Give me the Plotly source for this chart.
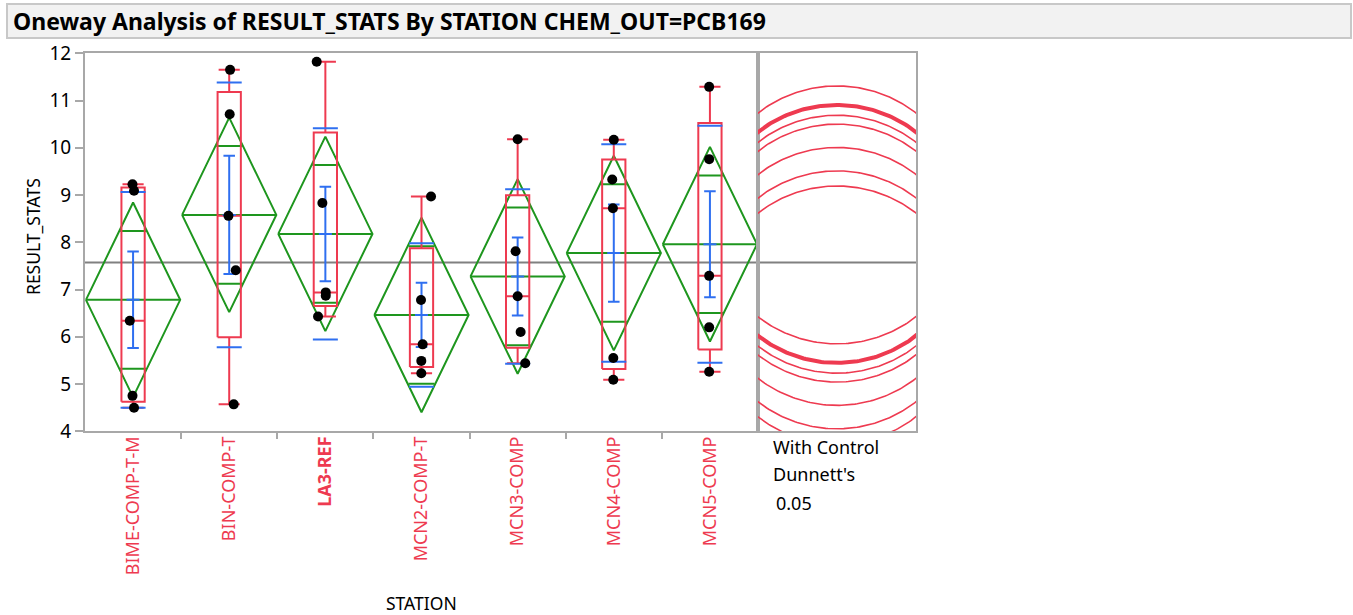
import numpy as np
import plotly.graph_objects as go

# ---- data -------------------------------------------------------------
stations = ["BIME-COMP-T-M", "BIN-COMP-T", "LA3-REF", "MCN2-COMP-T",
            "MCN3-COMP", "MCN4-COMP", "MCN5-COMP"]
control = "LA3-REF"

bime_comp_t_m = [9.23, 9.09, 6.34, 4.75, 4.50]
bin_comp_t = [11.65, 10.71, 8.56, 7.41, 4.57]
la3_ref = [11.82, 8.83, 6.94, 6.87, 6.43]
mcn2_comp_t = [8.97, 6.78, 5.84, 5.49, 5.23]
mcn3_comp = [10.18, 7.81, 6.86, 6.10, 5.44]
mcn4_comp = [10.17, 9.33, 8.72, 5.55, 5.09]
mcn5_comp = [11.29, 9.76, 7.29, 6.20, 5.26]

y_tick_vals = [4, 5, 6, 7, 8, 9, 10, 11, 12]

# critical values: t(0.975, df=28) for the means diamonds,
# Dunnett's |d| (6 comparisons with control, df=28) for the circles
t_crit = 2.048
dunnett_q = 2.715
alpha_text = "0.05"

# ---- horizontal point jitter (category units) ---------------------------
jitter = [
    [-0.006, 0.010, -0.034, -0.006, 0.010],
    [0.009, 0.005, -0.008, 0.068, 0.047],
    [-0.090, -0.031, 0.004, 0.004, -0.076],
    [0.099, -0.005, 0.012, -0.002, -0.002],
    [0.000, -0.021, 0.000, 0.031, 0.079],
    [0.000, -0.016, -0.009, -0.005, -0.005],
    [-0.008, -0.008, -0.008, -0.008, -0.008],
]

groups = [bime_comp_t_m, bin_comp_t, la3_ref, mcn2_comp_t,
          mcn3_comp, mcn4_comp, mcn5_comp]

W, H = 1353, 615
RED = "#ee3a50"
GREEN = "#1e961e"
BLUE = "#2f6ff0"
FRAME = "#a8a8a8"
FONT = "Noto Sans, Open Sans, sans-serif"


def px(x):
    return x / W


def py(y):
    return 1 - y / H


def quantile(vals, p):
    """Quantile at rank p*(n+1), linear between order statistics."""
    v = np.sort(np.asarray(vals, float))
    n = len(v)
    r = p * (n + 1)
    lo = int(np.floor(r))
    frac = r - lo
    lo = min(max(lo, 1), n)
    hi = min(lo + 1, n)
    return v[lo - 1] + frac * (v[hi - 1] - v[lo - 1])


# ---- statistics -------------------------------------------------------
means = [float(np.mean(g)) for g in groups]
sds = [float(np.std(g, ddof=1)) for g in groups]
ns = [len(g) for g in groups]
all_vals = np.concatenate([np.asarray(g, float) for g in groups])
grand_mean = float(all_vals.mean())
ss_within = sum(float(np.sum((np.asarray(g) - m) ** 2)) for g, m in zip(groups, means))
df_err = len(all_vals) - len(groups)
s_pooled = np.sqrt(ss_within / df_err)

fig = go.Figure()

# ---- means diamonds (green) ------------------------------------------
gx, gy = [], []
for i, (m, n) in enumerate(zip(means, ns)):
    se_p = s_pooled / np.sqrt(n)
    ci = t_crit * se_p
    hw = 0.49
    gx += [i - hw, i, i + hw, i, i - hw, None, i - hw, i + hw, None]
    gy += [m, m + ci, m, m - ci, m, None, m, m, None]
    ov = ci / np.sqrt(2)
    ow = 0.135
    gx += [i - ow, i + ow, None, i - ow, i + ow, None]
    gy += [m + ov, m + ov, None, m - ov, m - ov, None]
fig.add_trace(go.Scatter(x=gx, y=gy, mode="lines", xaxis="x", yaxis="y",
                         line=dict(color=GREEN, width=2), hoverinfo="skip",
                         showlegend=False))

# ---- quantile boxes (red) ---------------------------------------------
rx, ry = [], []
for i, g in enumerate(groups):
    q1, med, q3 = quantile(g, 0.25), quantile(g, 0.5), quantile(g, 0.75)
    iqr = q3 - q1
    inside = [v for v in g if q1 - 1.5 * iqr <= v <= q3 + 1.5 * iqr]
    lo_w, hi_w = min(inside), max(inside)
    bw, cw = 0.121, 0.11
    rx += [i - bw, i + bw, i + bw, i - bw, i - bw, None,
           i - bw, i + bw, None,
           i, i, None, i, i, None,
           i - cw, i + cw, None, i - cw, i + cw, None]
    ry += [q1, q1, q3, q3, q1, None,
           med, med, None,
           q3, hi_w, None, q1, lo_w, None,
           hi_w, hi_w, None, lo_w, lo_w, None]
fig.add_trace(go.Scatter(x=rx, y=ry, mode="lines", xaxis="x", yaxis="y",
                         line=dict(color=RED, width=2), hoverinfo="skip",
                         showlegend=False))

# ---- mean error bars and std dev lines (blue) -------------------------
bx, by = [], []
for i, (m, s, n) in enumerate(zip(means, sds, ns)):
    se = s / np.sqrt(n)
    sw, ew, mw = 0.13, 0.06, 0.068
    bx += [i - sw, i + sw, None, i - sw, i + sw, None,
           i, i, None,
           i - ew, i + ew, None, i - ew, i + ew, None,
           i - mw, i + mw, None]
    by += [m + s, m + s, None, m - s, m - s, None,
           m - se, m + se, None,
           m + se, m + se, None, m - se, m - se, None,
           m, m, None]
fig.add_trace(go.Scatter(x=bx, y=by, mode="lines", xaxis="x", yaxis="y",
                         line=dict(color=BLUE, width=2), hoverinfo="skip",
                         showlegend=False))

# ---- data points ------------------------------------------------------
px_pts, py_pts = [], []
for i, (g, jit) in enumerate(zip(groups, jitter)):
    for v, j in zip(g, jit):
        px_pts.append(i + j)
        py_pts.append(v)
fig.add_trace(go.Scatter(x=px_pts, y=py_pts, mode="markers", xaxis="x", yaxis="y",
                         marker=dict(color="black", size=10, line=dict(width=0)),
                         cliponaxis=False, showlegend=False))

# ---- comparison circles (Dunnett's, with control) ---------------------
theta = np.linspace(0, 2 * np.pi, 361)
for name, m, n in zip(stations, means, ns):
    r = dunnett_q * s_pooled / np.sqrt(n)
    fig.add_trace(go.Scatter(
        x=r * np.cos(theta), y=m + r * np.sin(theta), mode="lines",
        xaxis="x2", yaxis="y2",
        line=dict(color=RED, width=4 if name == control else 1.6),
        hoverinfo="skip", showlegend=False))

# ---- layout -----------------------------------------------------------
L, M, R = 85, 758, 916
T, B = 53.3, 431.3
y_lo, y_hi = 4, 12
unit_px = (B - T) / (y_hi - y_lo)
half_x2 = (R - M) / unit_px / 2

fig.add_shape(type="line", xref="paper", yref="y", x0=px(L), x1=px(R),
              y0=grand_mean, y1=grand_mean, layer="below",
              line=dict(color="#808080", width=2))

# title bar
fig.add_shape(type="rect", xref="paper", yref="paper",
              x0=px(7), x1=px(1351), y0=py(38), y1=py(4),
              fillcolor="#f2f2f2", line=dict(color="#c8c8c8", width=2))
fig.add_annotation(xref="paper", yref="paper", x=px(11), y=py(21),
                   xanchor="left", yanchor="middle", showarrow=False,
                   text="<b>Oneway Analysis of RESULT_STATS By STATION CHEM_OUT=PCB169</b>",
                   font=dict(family=FONT, size=23, color="black"))

tick_text = [f"<b>{s}</b>" if s == control else s for s in stations]

fig.update_layout(
    width=W, height=H, autosize=False,
    margin=dict(l=0, r=0, t=0, b=0, autoexpand=False),
    paper_bgcolor="white", plot_bgcolor="white",
    font=dict(family=FONT, color="black"),
    xaxis=dict(domain=[px(L), px(M)], range=[-0.5, len(stations) - 0.5],
               anchor="y", automargin=False,
               tickmode="array", tickvals=list(range(len(stations))),
               ticktext=tick_text, tickangle=-90, ticks="",
               ticklabelstandoff=-4,
               tickfont=dict(family=FONT, size=18, color=RED),
               showgrid=False, zeroline=False,
               showline=True, linecolor=FRAME, linewidth=2, mirror=True,
               minor=dict(tickmode="array",
                          tickvals=[k + 0.5 for k in range(len(stations) - 1)],
                          ticks="outside", ticklen=6, tickcolor=FRAME, tickwidth=2,
                          showgrid=False)),
    yaxis=dict(domain=[py(B), py(T)], range=[y_lo, y_hi], anchor="x",
               automargin=False,
               tickmode="array", tickvals=y_tick_vals,
               ticks="outside", ticklen=8, tickcolor=FRAME, tickwidth=2,
               tickfont=dict(family=FONT, size=19, color="black"),
               showgrid=False, zeroline=False,
               showline=True, linecolor=FRAME, linewidth=2, mirror=True),
    xaxis2=dict(domain=[px(M), px(R)], range=[-half_x2, half_x2], anchor="y2",
                automargin=False,
                showticklabels=False, ticks="", showgrid=False, zeroline=False,
                showline=True, linecolor=FRAME, linewidth=2, mirror=True),
    yaxis2=dict(domain=[py(B), py(T)], range=[y_lo, y_hi], anchor="x2",
                automargin=False,
                matches="y", showticklabels=False, ticks="", showgrid=False,
                zeroline=False, showline=True, linecolor=FRAME, linewidth=2,
                mirror=True),
)

# axis titles
fig.add_annotation(xref="paper", yref="paper", x=px(421), y=py(603),
                   xanchor="center", yanchor="middle", showarrow=False,
                   text="STATION", font=dict(family=FONT, size=17.5, color="black"))
fig.add_annotation(xref="paper", yref="paper", x=px(33), y=py(237),
                   xanchor="center", yanchor="middle", showarrow=False,
                   textangle=-90, text="RESULT_STATS",
                   font=dict(family=FONT, size=17.5, color="black"))

# comparison-circle legend text
for txt, x, y in [("With Control", 771, 447), ("Dunnett's", 771, 474),
                  (alpha_text, 774, 503)]:
    fig.add_annotation(xref="paper", yref="paper", x=px(x), y=py(y),
                       xanchor="left", yanchor="middle", showarrow=False,
                       text=txt, font=dict(family=FONT, size=18, color="black"))

fig.write_html("out.html")
